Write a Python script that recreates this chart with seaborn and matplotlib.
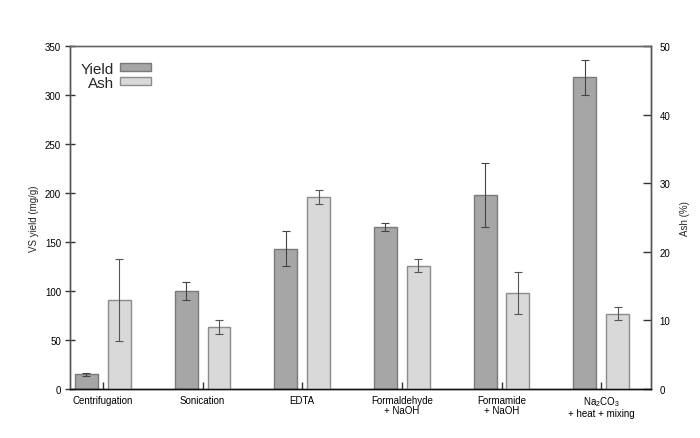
import numpy as np
import pandas as pd
import seaborn as sns
import matplotlib
matplotlib.use("Agg")
import matplotlib.pyplot as plt
from matplotlib.patches import Patch

methods = ["Centrifugation", "Sonication", "EDTA", "Formaldehyde\n+ NaOH",
           "Formamide\n+ NaOH", "Na$_2$CO$_3$\n+ heat + mixing"]
yield_vals = [15, 100, 143, 165, 198, 318]
yield_err = [1.5, 9, 18, 4, 33, 18]
ash_vals = [13, 9, 28, 18, 14, 11]
ash_err = [6, 1, 1, 1, 3, 1]

sns.set_style("ticks")
plt.rcParams['font.family'] = ['Liberation Sans', 'DejaVu Sans']
plt.rcParams['mathtext.fontset'] = 'custom'
plt.rcParams['mathtext.rm'] = 'Liberation Sans'
plt.rcParams['mathtext.it'] = 'Liberation Sans:italic'

pos = np.arange(len(methods))
off = 0.165
df = pd.DataFrame({"pos_y": pos - off, "pos_a": pos + off,
                   "yield": yield_vals, "ash": ash_vals})

fig = plt.figure(figsize=(7, 4.39), dpi=100)
ax = fig.add_axes([0.1, 0.1116, 0.83, 0.7814])
ax2 = ax.twinx()

sns.barplot(data=df, x="pos_y", y="yield", native_scale=True, width=0.23,
            color="#a6a6a6", saturation=1, edgecolor="#7a7a7a", linewidth=1,
            errorbar=None, ax=ax)
ax.errorbar(df["pos_y"], df["yield"], yerr=yield_err, fmt="none",
            ecolor="#444444", elinewidth=0.8, capsize=3, capthick=0.8)

sns.barplot(data=df, x="pos_a", y="ash", native_scale=True, width=0.23,
            color="#d9d9d9", saturation=1, edgecolor="#8c8c8c", linewidth=1,
            errorbar=None, ax=ax2)
ax2.errorbar(df["pos_a"], df["ash"], yerr=ash_err, fmt="none",
             ecolor="#555555", elinewidth=0.8, capsize=3, capthick=0.8)

ax.set_xlim(-0.33, 5.5)
ax.set_ylim(0, 350)
ax2.set_ylim(0, 50)
ax.set_yticks(np.arange(0, 351, 50))
ax2.set_yticks(np.arange(0, 51, 10))
ax.set_xticks(pos)
ax.set_xticklabels(methods, fontsize=7, linespacing=1.0)
ax.set_xlabel("")
ax.set_ylabel("VS yield (mg/g)", fontsize=7, labelpad=4)
ax2.set_ylabel("Ash (%)", fontsize=7, labelpad=7)
ax2.set_xlabel("")

ax.tick_params(axis="y", direction="inout", length=7, width=1, labelsize=7,
               colors="#333333", labelcolor="black", pad=3)
ax.tick_params(axis="x", direction="in", length=5, width=1, labelsize=7,
               colors="#333333", labelcolor="black", pad=4)
ax2.tick_params(axis="y", direction="in", length=6, width=1, labelsize=7,
                colors="#333333", labelcolor="black", pad=6)

for a in (ax, ax2):
    for s in a.spines.values():
        s.set_visible(True)
        s.set_linewidth(1)
    a.spines["left"].set_color("#555555")
    a.spines["bottom"].set_color("#111111")
    a.spines["top"].set_color("#666666")
    a.spines["right"].set_color("#555555")

handles = [Patch(facecolor="#a6a6a6", edgecolor="#7a7a7a", label="Yield"),
           Patch(facecolor="#d9d9d9", edgecolor="#8c8c8c", label="Ash")]
ax.legend(handles=handles, loc="upper left", bbox_to_anchor=(0.0, 0.985),
          frameon=False, markerfirst=False, fontsize=11, handlelength=2.0,
          handleheight=0.45, handletextpad=0.4, labelspacing=0.0,
          borderaxespad=0.3)

fig.savefig("out.png", dpi=100)
